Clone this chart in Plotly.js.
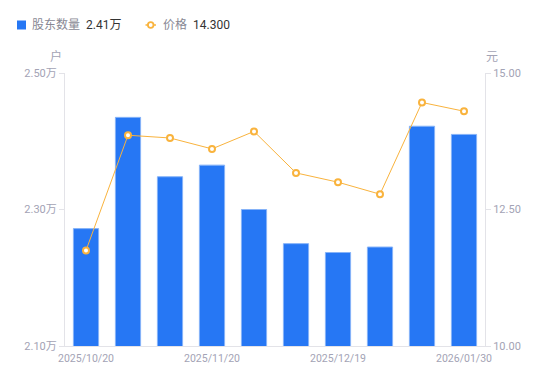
<!DOCTYPE html>
<html>
<head>
<meta charset="utf-8">
<script src="https://cdn.plot.ly/plotly-3.0.1.min.js"></script>
<style>html,body{margin:0;padding:0;background:#fff;}#chart{width:550px;height:381px;}</style>
</head>
<body>
<div id="chart"></div>
<script>
const dates = ["2025/10/20","2025/10/31","2025/11/10","2025/11/20","2025/11/28","2025/12/10","2025/12/19","2025/12/31","2026/01/20","2026/01/30"];
const holders = [2.272, 2.435, 2.348, 2.365, 2.300, 2.250, 2.237, 2.245, 2.422, 2.410];
const prices = [11.75, 13.86, 13.81, 13.61, 13.93, 13.17, 13.00, 12.78, 14.46, 14.30];
const shownTicks = ["2025/10/20","2025/11/20","2025/12/19","2026/01/30"];
const leftTicks = [2.10, 2.30, 2.50];
const rightTicks = [10.00, 12.50, 15.00];
const seriesNames = ["股东数量", "价格"];

const grey = '#a3a3b5';
const blue = '#2677f4';
const orange = '#f9b33d';
const font = 'Roboto, "Noto Sans CJK SC", sans-serif';

// plot area in pixels (for placing the custom legend in paper coordinates)
const L = 65, R = 485, T = 73, B = 346;
const px = v => (v - L) / (R - L);
const py = v => (B - v) / (B - T);
const legendY = 25;

const traces = [
  {
    type: 'bar', x: dates, y: holders, name: seriesNames[0],
    marker: {color: blue, line: {color: '#86b3f8', width: 1}},
    yaxis: 'y', hoverinfo: 'skip', showlegend: false
  },
  {
    type: 'scatter', mode: 'lines+markers', x: dates, y: prices, name: seriesNames[1],
    line: {color: orange, width: 1},
    marker: {symbol: 'circle', size: 6, color: '#ffffff', line: {color: orange, width: 2}},
    yaxis: 'y2', hoverinfo: 'skip', showlegend: false
  }
];

function ann(text, x, color) {
  return {text: text, xref: 'paper', yref: 'paper', x: px(x), y: py(legendY),
    xanchor: 'left', yanchor: 'middle', showarrow: false, borderpad: 0,
    font: {size: 12, color: color, family: font}};
}

const layout = {
  width: 550, height: 381,
  margin: {l: 65, r: 65, t: 73, b: 35},
  paper_bgcolor: '#fff', plot_bgcolor: '#fff',
  font: {family: font, size: 11, color: grey},
  bargap: 0.4,
  showlegend: false,
  xaxis: {
    type: 'category', categoryorder: 'array', categoryarray: dates,
    range: [-0.5, dates.length - 0.5],
    tickmode: 'array', tickvals: shownTicks, ticktext: shownTicks,
    showline: true, linecolor: '#e3e3e8', linewidth: 1,
    showgrid: false, ticks: '', zeroline: false,
    ticklabelstandoff: 2,
    tickfont: {size: 10.5, color: grey}
  },
  yaxis: {
    range: [2.10, 2.50], tickmode: 'array', tickvals: leftTicks,
    ticktext: leftTicks.map(v => v.toFixed(2) + '万'),
    showline: true, linecolor: '#e3e3e8', linewidth: 1,
    ticks: 'outside', ticklen: 5, tickcolor: '#e3e3e8',
    showgrid: false, zeroline: false,
    tickfont: {size: 11, color: grey}
  },
  yaxis2: {
    overlaying: 'y', side: 'right',
    range: [10, 15], tickmode: 'array', tickvals: rightTicks,
    ticktext: rightTicks.map(v => v.toFixed(2)),
    showline: true, linecolor: '#e3e3e8', linewidth: 1,
    ticks: 'outside', ticklen: 5, tickcolor: '#e3e3e8',
    showgrid: false, zeroline: false,
    tickfont: {size: 11, color: grey}
  },
  shapes: [
    {type: 'rect', xref: 'paper', yref: 'paper', x0: px(17), x1: px(26), y0: py(29.5), y1: py(20.5),
     fillcolor: blue, line: {width: 0}},
    {type: 'line', xref: 'paper', yref: 'paper', x0: px(145.5), x1: px(156), y0: py(legendY), y1: py(legendY),
     line: {color: orange, width: 1.5}},
    {type: 'circle', xref: 'paper', yref: 'paper', xsizemode: 'pixel', ysizemode: 'pixel',
     xanchor: px(150.7), yanchor: py(legendY), x0: -2.8, x1: 2.8, y0: -2.8, y1: 2.8,
     fillcolor: '#fff', line: {color: orange, width: 1.8}}
  ],
  annotations: [
    ann(seriesNames[0], 31, '#888894'),
    ann(holders[holders.length-1].toFixed(2) + '万', 85, '#333'),
    ann(seriesNames[1], 161.5, '#888894'),
    ann(prices[prices.length-1].toFixed(3), 191.5, '#333'),
    {text: '户', xref: 'paper', yref: 'paper', x: 0, y: 1, xanchor: 'right', yanchor: 'bottom', xshift: -1, yshift: 7, showarrow: false, font: {size: 12, color: grey}},
    {text: '元', xref: 'paper', yref: 'paper', x: 1, y: 1, xanchor: 'left', yanchor: 'bottom', xshift: -1, yshift: 7, showarrow: false, font: {size: 12, color: grey}}
  ]
};

Plotly.newPlot('chart', traces, layout, {displayModeBar: false, staticPlot: true});
</script>
</body>
</html>
